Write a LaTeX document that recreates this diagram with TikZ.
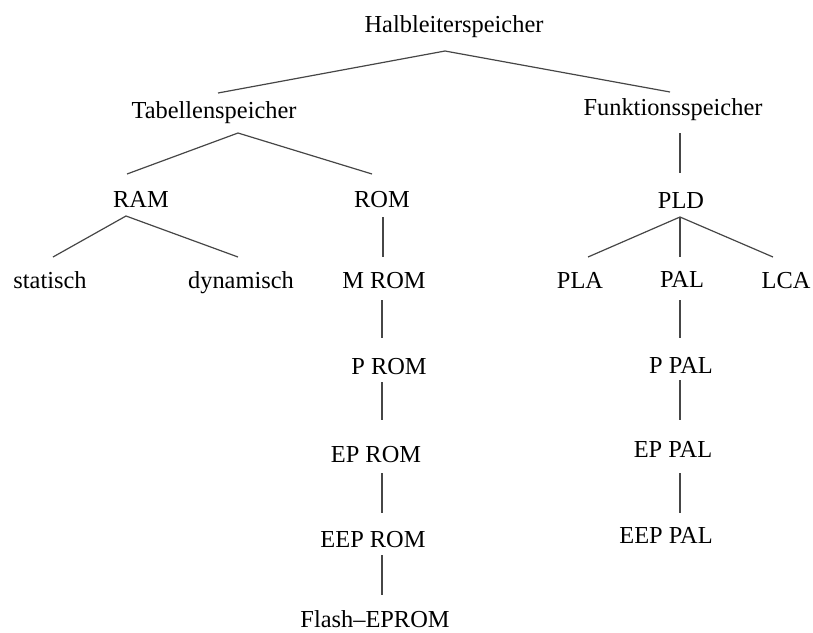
\documentclass[tikz,border=0pt]{standalone}
\usepackage{fontspec}
\setmainfont{Liberation Serif}
\usepackage{xcolor}
\definecolor{linkGray}{RGB}{70,70,70}
\tikzset{
  lbl/.style={anchor=base,inner sep=0pt,font=\fontsize{12.2}{14}\selectfont},
  link/.style={draw=linkGray,line width=0.6pt}
}

\begin{document}
\begin{tikzpicture}[x=0.5pt,y=-0.5pt]
        \useasboundingbox (0,0) rectangle (813,632);
        % root and first level
        \node[lbl] (hl)  at (454,32)  {Halbleiterspeicher};
        \node[lbl] (tab) at (214,118) {Tabellenspeicher};
        \node[lbl] (fun) at (673,115) {Funktionsspeicher};
        % second level
        \node[lbl] (ram) at (141,207) {RAM};
        \node[lbl] (rom) at (382,207) {ROM};
        \node[lbl] (pld) at (681,208) {PLD};
        % third level
        \node[lbl] (sta)  at (50,288)  {statisch};
        \node[lbl] (dyn)  at (241,288) {dynamisch};
        \node[lbl] (mrom) at (384,288) {M ROM};
        \node[lbl] (pla)  at (580,288) {PLA};
        \node[lbl] (pal)  at (682,287) {PAL};
        \node[lbl] (lca)  at (786,288) {LCA};
        % ROM chain
        \node[lbl] (prom)   at (389,374) {P ROM};
        \node[lbl] (eprom)  at (376,462) {EP ROM};
        \node[lbl] (eeprom) at (373,547) {EEP ROM};
        \node[lbl] (flash)  at (375,627) {Flash--EPROM};
        % PAL chain
        \node[lbl] (ppal)   at (681,373) {P PAL};
        \node[lbl] (eppal)  at (673,457) {EP PAL};
        \node[lbl] (eeppal) at (666,543) {EEP PAL};
        % branches
        \draw[link] ([shift={(4,-25)}]tab.base) -- ([shift={(-9,19)}]hl.base) -- ([shift={(-3,-23)}]fun.base);
        \draw[link] ([shift={(-14,-33)}]ram.base) -- ([shift={(24,15)}]tab.base) -- ([shift={(-10,-33)}]rom.base);
        \draw[link] ([shift={(7,18)}]fun.base) -- ([shift={(-1,-35)}]pld.base);
        \draw[link] ([shift={(3,-31)}]sta.base) -- ([shift={(-15,9)}]ram.base) -- ([shift={(-3,-31)}]dyn.base);
        \draw[link] ([shift={(8,-31)}]pla.base) -- ([shift={(-1,9)}]pld.base) -- ([shift={(-13,-31)}]lca.base);
        \draw[link] ([shift={(-1,9)}]pld.base) -- ([shift={(-2,-30)}]pal.base);
        % vertical chains
        \draw[link] ([shift={(1,10)}]rom.base) -- ([shift={(-1,-31)}]mrom.base);
        \draw[link] ([shift={(-2,12)}]mrom.base) -- ([shift={(-7,-36)}]prom.base);
        \draw[link] ([shift={(-7,8)}]prom.base) -- ([shift={(6,-42)}]eprom.base);
        \draw[link] ([shift={(6,11)}]eprom.base) -- ([shift={(9,-34)}]eeprom.base);
        \draw[link] ([shift={(9,8)}]eeprom.base) -- ([shift={(7,-32)}]flash.base);
        \draw[link] ([shift={(-2,13)}]pal.base) -- ([shift={(-1,-35)}]ppal.base);
        \draw[link] ([shift={(-1,7)}]ppal.base) -- ([shift={(7,-37)}]eppal.base);
        \draw[link] ([shift={(7,16)}]eppal.base) -- ([shift={(14,-30)}]eeppal.base);
\end{tikzpicture}
\end{document}
